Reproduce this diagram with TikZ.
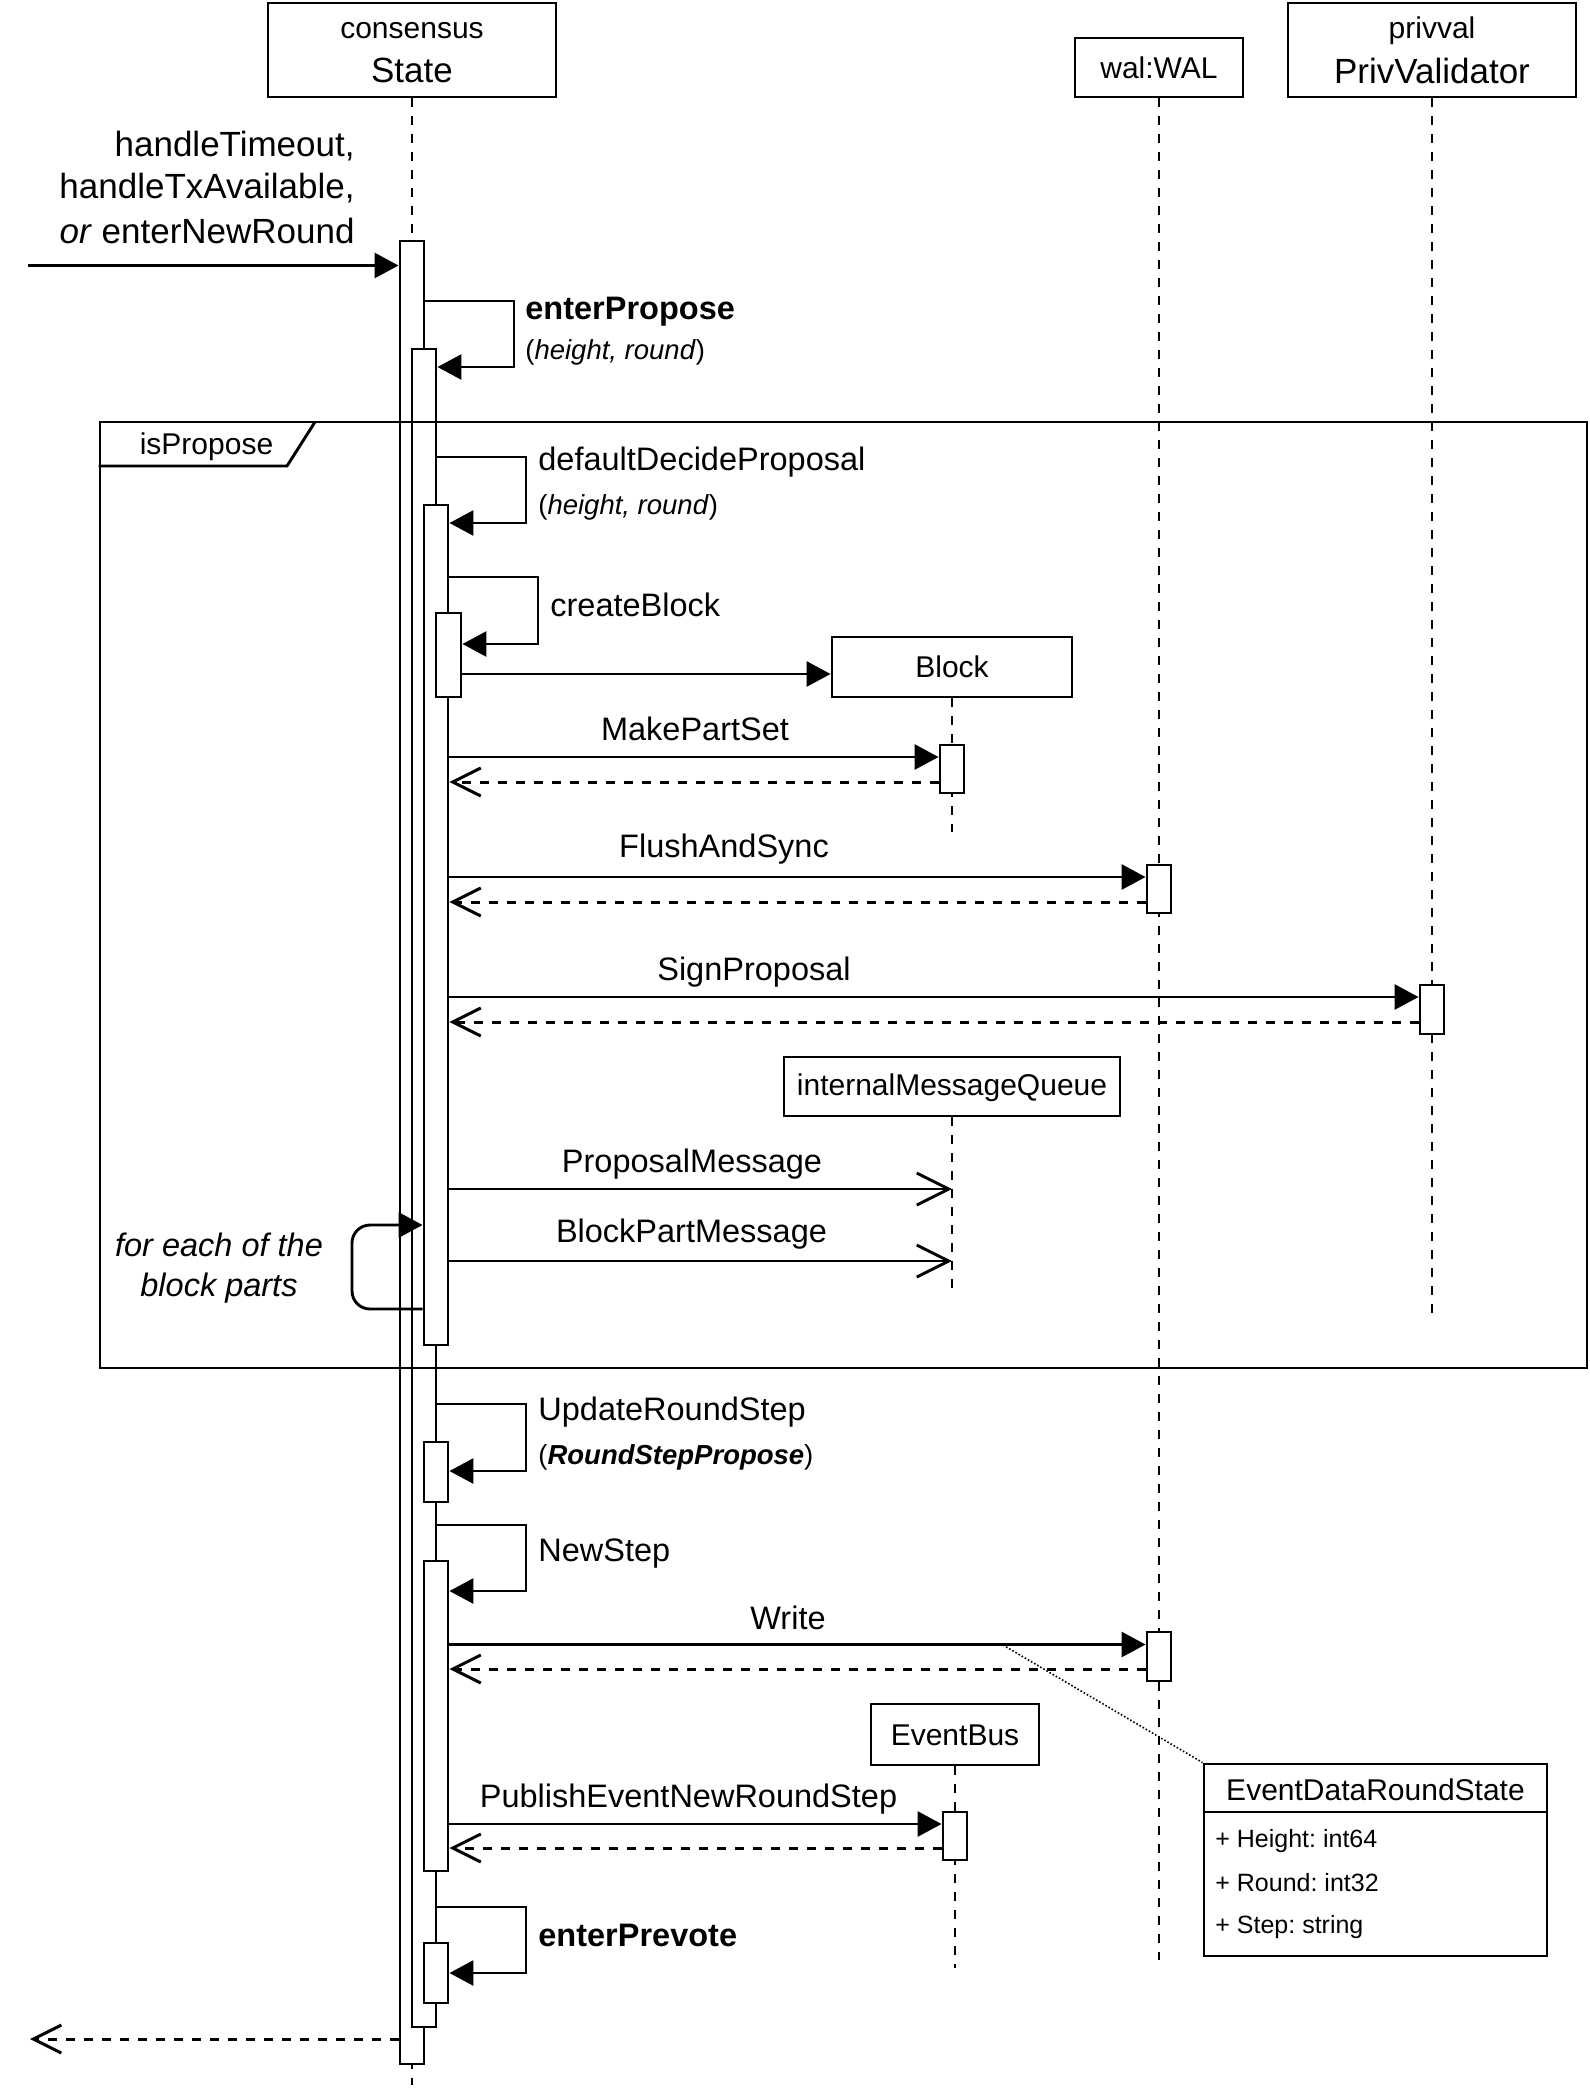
\documentclass[tikz,border=0pt]{standalone}
\usepackage{fontspec}
\setmainfont{Liberation Sans}
\usetikzlibrary{arrows.meta,fit}
\frenchspacing
\begin{document}
\begin{tikzpicture}[x=0.5pt,y=-0.5pt,
  ln/.style={line width=1.45pt},
  obj/.style={draw, line width=1.45pt, fill=white, inner sep=0pt},
  act/.style={draw, line width=1.45pt, fill=white, inner sep=0pt},
  life/.style={line width=1.35pt, dash pattern=on 4.5pt off 4.5pt},
  msg/.style={line width=1.45pt, -{Triangle[length=12pt,width=12.5pt]}},
  ret/.style={line width=1.5pt, dash pattern=on 4.5pt off 4.5pt, -{Straight Barb[length=14pt,width=14pt]}},
  asy/.style={line width=1.45pt, -{Straight Barb[length=16pt,width=16pt]}},
  note/.style={line width=0.8pt, dash pattern=on 0.8pt off 1pt},
  txt/.style={inner sep=0pt},
  fbig/.style={font=\fontsize{17.5pt}{21pt}\selectfont},
  fmsg/.style={font=\fontsize{16.25pt}{19.5pt}\selectfont},
  fsm/.style={font=\fontsize{15pt}{18pt}\selectfont},
  fpar/.style={font=\fontsize{13.75pt}{16.5pt}\selectfont},
  fattr/.style={font=\fontsize{12.5pt}{15pt}\selectfont}
]
\useasboundingbox (0,0) rectangle (1590,2094);
\fill[white] (0,0) rectangle (1590,2094);

% ---------- lifeline heads ----------
\node[obj, fit={(268,3)(556,97)}] (st) {};
\node[txt,fsm] (stA) at (412,31) {consensus};
\node[txt,fbig] (stB) at (412,70) {State};
\node[obj, fit={(1075,38)(1243,97)}] (wal) {};
\node[txt,fsm] (walt) at (1159,68) {wal:WAL};
\node[obj, fit={(1288,3)(1576,97)}] (pv) {};
\node[txt,fsm] (pvA) at (1432,31) {privval};
\node[txt,fbig] (pvB) at (1432,71) {PrivValidator};

% ---------- lifelines ----------
\coordinate (stEnd) at (412,2085);
\coordinate (walEnd) at (1159,1960);
\coordinate (pvEnd) at (1432,1316);
\draw[life] (st.south) -- (stEnd);
\draw[life] (wal.south) -- (walEnd);
\draw[life] (pv.south) -- (pvEnd);

\node[obj, fit={(832,637)(1072,697)}] (blk) {};
\node[txt,fsm] (blkt) at (952,667) {Block};
\coordinate (blkEnd) at (952,832);
\draw[life] (blk.south) -- (blkEnd);

\node[obj, fit={(784,1057)(1120,1116)}] (imq) {};
\node[txt,fsm] (imqt) at (952,1088) {internalMessageQueue};
\coordinate (imqEnd) at (952,1292);
\draw[life] (imq.south) -- (imqEnd);

\node[obj, fit={(871,1704)(1039,1765)}] (eb) {};
\node[txt,fsm] (ebt) at (955,1735) {EventBus};
\coordinate (ebEnd) at (955,1968);
\draw[life] (eb.south) -- (ebEnd);

% ---------- activations ----------
\node[act, fit={(400,241)(424,2064)}] (a0) {};
\node[act, fit={(412,349)(436,2027)}] (a1) {};
\node[act, fit={(424,505)(448,1345)}] (a2) {};
\node[act, fit={(436,613)(461,697)}] (a3) {};
\node[act, fit={(940,745)(964,793)}] (aB) {};
\node[act, fit={(1147,865)(1171,913)}] (aW1) {};
\node[act, fit={(1420,985)(1444,1034)}] (aP) {};
\node[act, fit={(424,1442)(448,1502)}] (a4) {};
\node[act, fit={(424,1561)(448,1871)}] (a5) {};
\node[act, fit={(1147,1632)(1171,1681)}] (aW2) {};
\node[act, fit={(943,1812)(967,1860)}] (aE) {};
\node[act, fit={(424,1943)(448,2003)}] (a6) {};

% ---------- frame ----------
\node[draw, line width=1.45pt, inner sep=0pt, fit={(100,422)(1587,1368)}] (fr) {};
\draw[ln] (fr.north west |- 0,466) -- (287,466) -- (315,422);
\node[txt,fsm] (frt) at (206.5,447) {isPropose};

% ---------- incoming ----------
\node[txt,fbig,anchor=east] (h1) at (355,146) {handleTimeout,};
\node[txt,fbig,anchor=east] (h2) at (355,188) {handleTxAvailable,};
\node[txt,fbig,anchor=east] (h3) at (355,230.5) {\textit{or} enterNewRound};
\coordinate (inS) at (28,265.5);
\draw[msg] (inS) -- (a0.west |- inS);

% ---------- self calls ----------
\draw[msg] (a0.east |- 0,301) -- (514,301) -- (514,367) -- (a1.east |- 0,367);
\node[txt,fmsg,anchor=west] (l1) at (525,311.5) {\textbf{enterPropose}};
\node[txt,fpar,anchor=west] (l1b) at (525,352) {(\textit{height, round})};

\draw[msg] (a1.east |- 0,457) -- (526,457) -- (526,523) -- (a2.east |- 0,523);
\node[txt,fmsg,anchor=west] (l2) at (538,462) {defaultDecideProposal};
\node[txt,fpar,anchor=west] (l2b) at (538,507) {(\textit{height, round})};

\draw[msg] (a2.east |- 0,577) -- (538,577) -- (538,644) -- (a3.east |- 0,644);
\node[txt,fmsg,anchor=west] (l3) at (550,605) {createBlock};

\draw[msg] (a3.east |- 0,674) -- (blk.west |- 0,674);

% ---------- calls ----------
\draw[msg] (a2.east |- 0,757) -- (aB.west |- 0,757);
\draw[ret] (aB.west |- 0,782) -- (a2.east |- 0,782);
\node[txt,fmsg] (l4) at (695,729) {MakePartSet};

\draw[msg] (a2.east |- 0,877) -- (aW1.west |- 0,877);
\draw[ret] (aW1.west |- 0,902) -- (a2.east |- 0,902);
\node[txt,fmsg] (l5) at (724,849.5) {FlushAndSync};

\draw[msg] (a2.east |- 0,997) -- (aP.west |- 0,997);
\draw[ret] (aP.west |- 0,1022) -- (a2.east |- 0,1022);
\node[txt,fmsg] (l6) at (754,972) {SignProposal};

\draw[asy] (a2.east |- 0,1189) -- (imq.south |- 0,1189);
\node[txt,fmsg] (l7) at (692,1164) {ProposalMessage};
\draw[asy] (a2.east |- 0,1261) -- (imq.south |- 0,1261);
\node[txt,fmsg] (l8) at (691.5,1234.5) {BlockPartMessage};

% loop
\draw[msg, rounded corners=9pt] (a2.west |- 0,1309) -- (352,1309) -- (352,1225) -- (a2.west |- 0,1225);
\node[txt,fmsg] (lp1) at (219,1245) {\textit{for each of the}};
\node[txt,fmsg] (lp2) at (219,1288) {\textit{block parts}};

% ---------- after frame ----------
\draw[msg] (a1.east |- 0,1404) -- (526,1404) -- (526,1471) -- (a4.east |- 0,1471);
\node[txt,fmsg,anchor=west] (l9) at (538,1412) {UpdateRoundStep};
\node[txt,fpar,anchor=west] (l9b) at (538,1457) {(\textbf{\textit{RoundStepPropose}})};

\draw[msg] (a1.east |- 0,1525) -- (526,1525) -- (526,1591) -- (a5.east |- 0,1591);
\node[txt,fmsg,anchor=west] (l10) at (538,1554) {NewStep};

\draw[msg] (a5.east |- 0,1644.5) -- (aW2.west |- 0,1644.5);
\draw[ret] (aW2.west |- 0,1669) -- (a5.east |- 0,1669);
\node[txt,fmsg] (l11) at (788,1618) {Write};

\draw[msg] (a5.east |- 0,1824) -- (aE.west |- 0,1824);
\draw[ret] (aE.west |- 0,1848) -- (a5.east |- 0,1848);
\node[txt,fmsg] (l12) at (688.5,1799) {PublishEventNewRoundStep};

\draw[msg] (a1.east |- 0,1907) -- (526,1907) -- (526,1973) -- (a6.east |- 0,1973);
\node[txt,fmsg,anchor=west] (l13) at (538,1935) {\textbf{enterPrevote}};

\coordinate (outE) at (30,2039);
\draw[ret] (a0.west |- outE) -- (outE);

% ---------- note class ----------
\node[obj, fit={(1204,1764)(1547,1956)}] (edr) {};
\draw[ln] (edr.west |- 0,1812) -- (edr.east |- 0,1812);
\node[txt,fsm] (edrt) at (1375.5,1790) {EventDataRoundState};
\node[txt,fattr,anchor=west] (e1) at (1215,1841) {+ Height: int64};
\node[txt,fattr,anchor=west] (e2) at (1215,1883) {+ Round: int32};
\node[txt,fattr,anchor=west] (e3) at (1215,1927) {+ Step: string};
\coordinate (wn) at (1003,1645);
\draw[note] (wn) -- (edr.north west);
\end{tikzpicture}
\end{document}
